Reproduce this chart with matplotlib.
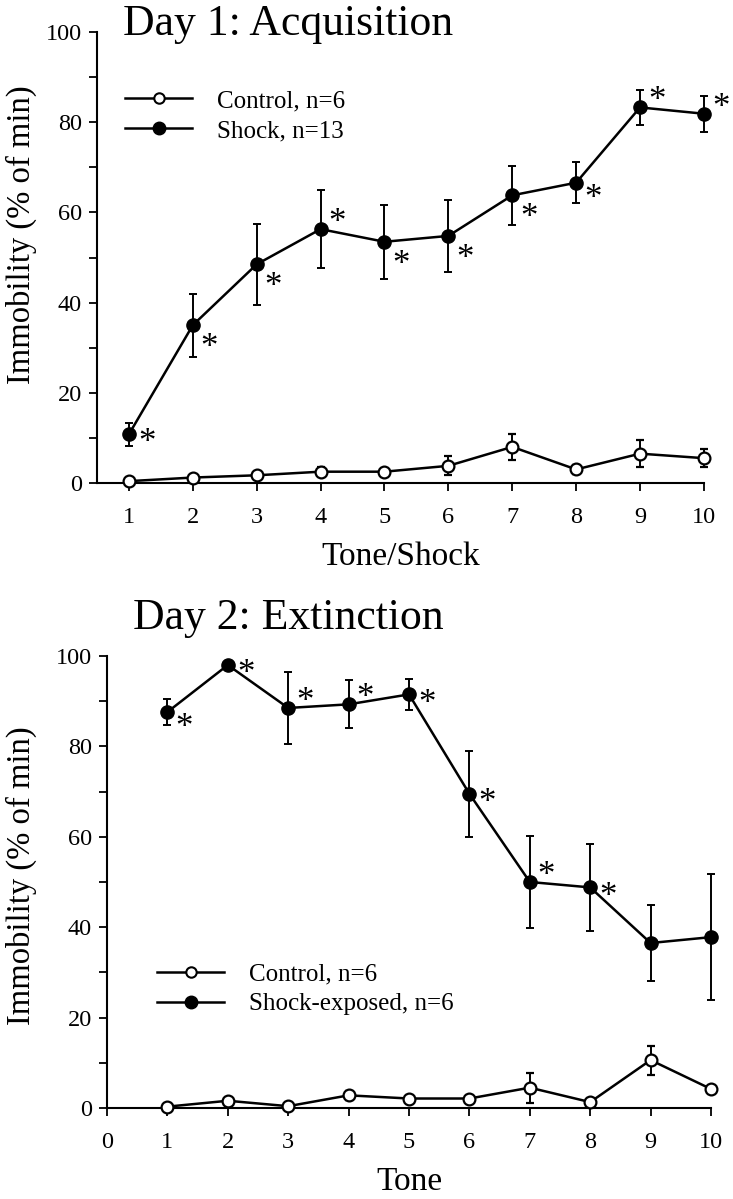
import numpy as np
import matplotlib
matplotlib.use('Agg')
import matplotlib.pyplot as plt
from matplotlib.lines import Line2D
from matplotlib.ticker import MultipleLocator

plt.rcParams['font.family'] = ['Liberation Serif', 'DejaVu Serif']

# Day 1: acquisition
tones = [1, 2, 3, 4, 5, 6, 7, 8, 9, 10]
d1_shock = [10.8, 35.0, 48.5, 56.3, 53.5, 54.8, 63.8, 66.6, 83.3, 81.9]
d1_shock_err = [2.5, 7.0, 9.0, 8.7, 8.2, 8.0, 6.6, 4.5, 3.8, 4.0]
d1_ctrl = [0.4, 1.2, 1.7, 2.5, 2.5, 3.8, 8.0, 3.0, 6.5, 5.5]
d1_ctrl_err = [0.0, 0.3, 0.3, 1.0, 0.5, 2.1, 2.8, 1.0, 3.0, 2.0]
d1_star = ['level', 'below', 'below', 'above', 'below', 'below', 'below', 'low', 'above', 'above']

# Day 2: extinction
d2_shock = [87.6, 98.0, 88.5, 89.3, 91.5, 69.5, 50.0, 48.8, 36.5, 37.8]
d2_shock_err = [2.8, 0.5, 8.0, 5.3, 3.5, 9.5, 10.1, 9.6, 8.4, 14.0]
d2_ctrl = [0.3, 1.6, 0.4, 2.8, 2.1, 2.1, 4.5, 1.3, 10.6, 4.2]
d2_ctrl_err = [0.0, 0.3, 0.0, 1.0, 0.6, 0.3, 3.3, 0.3, 3.2, 0.3]
d2_star = ['low', 'level', 'above', 'above', 'level', 'level', 'above', 'level', None, None]

# asterisk offsets in points (dx, dy)
star_offsets = {'below': (12, -17), 'low': (12, -12), 'above': (12, 4), 'level': (13, -7)}


def draw_panel(ax, ctrl, ctrl_err, shock, shock_err, stars):
    ax.errorbar(tones, ctrl, yerr=ctrl_err, color='black', lw=1.8, marker='o',
                ms=8.5, mfc='white', mec='black', mew=1.6, capsize=3, elinewidth=1.4,
                capthick=1.4, clip_on=False, zorder=3)
    ax.errorbar(tones, shock, yerr=shock_err, color='black', lw=1.8, marker='o',
                ms=9.5, mfc='black', mec='black', capsize=3, elinewidth=1.4,
                capthick=1.4, clip_on=False, zorder=4)
    for x, y, s in zip(tones, shock, stars):
        if s is None:
            continue
        ax.annotate('*', (x, y), xytext=star_offsets[s], textcoords='offset points',
                    fontsize=25, ha='center', va='center', annotation_clip=False)
    ax.set_ylim(0, 100)
    ax.yaxis.set_major_locator(MultipleLocator(20))
    ax.yaxis.set_minor_locator(MultipleLocator(10))
    for sp in ['top', 'right']:
        ax.spines[sp].set_visible(False)
    for sp in ['left', 'bottom']:
        ax.spines[sp].set_linewidth(1.5)
    ax.tick_params(which='both', direction='out', width=1.3, length=6, labelsize=17.5)
    ax.tick_params(axis='y', which='both', pad=5)
    ax.tick_params(axis='x', which='both', pad=11)
    ax.set_ylabel('Immobility (% of min)', fontsize=23.5)


def legend_handles():
    h_ctrl = Line2D([], [], color='black', lw=1.8, marker='o', ms=7.5,
                    mfc='white', mec='black', mew=1.5)
    h_shock = Line2D([], [], color='black', lw=1.8, marker='o', ms=9,
                     mfc='black', mec='black')
    return [h_ctrl, h_shock]


fig = plt.figure(figsize=(7.33, 11.99), dpi=100)

ax1 = fig.add_axes([0.1323, 0.5972, 0.828, 0.376])
draw_panel(ax1, d1_ctrl, d1_ctrl_err, d1_shock, d1_shock_err, d1_star)
ax1.set_xlim(0.5, 10)
ax1.set_xticks(tones)
ax1.set_xlabel('Tone/Shock', fontsize=24, labelpad=10)
ax1.yaxis.set_label_coords(-0.099, 0.55)
fig.legend(legend_handles(), ['Control, n=6', 'Shock, n=13'], loc='center left',
           bbox_to_anchor=(0.1705, 0.9033), frameon=False, fontsize=18,
           handlelength=2.7, handletextpad=1.0, labelspacing=0.3, borderpad=0,
           borderaxespad=0)
fig.text(0.168, 0.9708, 'Day 1: Acquisition', fontsize=31.5, ha='left', va='baseline')

ax2 = fig.add_axes([0.146, 0.0759, 0.824, 0.377])
draw_panel(ax2, d2_ctrl, d2_ctrl_err, d2_shock, d2_shock_err, d2_star)
ax2.set_xlim(0, 10)
ax2.set_xticks(range(0, 11))
ax2.set_xlabel('Tone', fontsize=24, labelpad=10)
ax2.yaxis.set_label_coords(-0.116, 0.515)
fig.legend(legend_handles(), ['Control, n=6', 'Shock-exposed, n=6'], loc='center left',
           bbox_to_anchor=(0.214, 0.1751), frameon=False, fontsize=18,
           handlelength=2.7, handletextpad=1.0, labelspacing=0.3, borderpad=0,
           borderaxespad=0)
fig.text(0.182, 0.4754, 'Day 2: Extinction', fontsize=31.5, ha='left', va='baseline')

plt.savefig('out.png', dpi=100)
